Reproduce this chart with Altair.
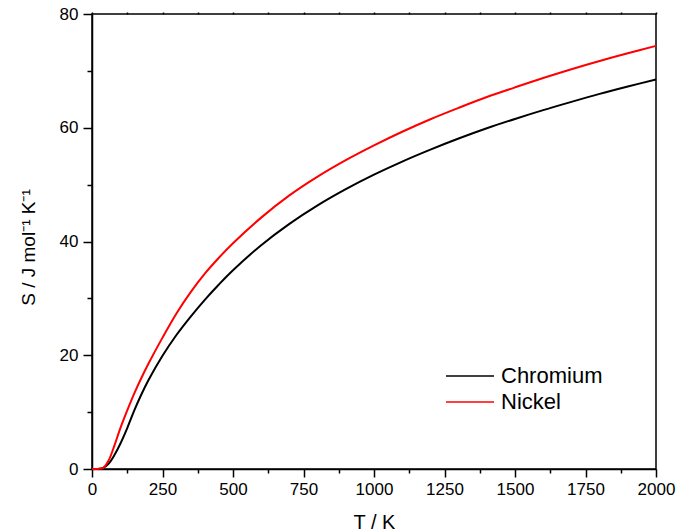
import altair as alt
import pandas as pd

# Temperatures (K) at which the curves were read
T_vals = [0, 20, 40, 60, 80, 100, 125, 150, 175, 200, 250, 300, 350, 400, 450, 500,
          600, 700, 800, 900, 1000, 1100, 1200, 1300, 1400, 1500, 1600, 1700, 1800, 1900, 2000]
# Entropy S / J mol^-1 K^-1
S_chromium = [0, 0, 0.2, 1.0, 2.5, 4.4, 7.2, 10.3, 13.1, 15.6, 19.9, 23.6, 26.8, 29.75, 32.45, 34.95,
              39.35, 43.1, 46.35, 49.2, 51.75, 54.05, 56.15, 58.1, 59.9, 61.55, 63.1, 64.55, 65.95, 67.25, 68.5]
S_nickel = [0, 0.02, 0.2, 1.6, 4.2, 7.1, 10.3, 13.3, 16.0, 18.5, 23.1, 27.4, 31.1, 34.35, 37.15, 39.7,
            44.2, 48.1, 51.4, 54.3, 56.9, 59.3, 61.5, 63.5, 65.4, 67.1, 68.75, 70.3, 71.75, 73.1, 74.4]
series_names = ["Chromium", "Nickel"]
series_colors = ["#000000", "#ff0000"]

x_major_ticks = [0, 250, 500, 750, 1000, 1250, 1500, 1750, 2000]
x_minor_ticks = [125, 375, 625, 875, 1125, 1375, 1625, 1875]
x_top_ticks = [0, 125, 250, 375, 500, 625, 750, 875, 1000, 1125, 1250, 1375, 1500,
               1625, 1750, 1875, 2000]
y_major_ticks = [0, 20, 40, 60, 80]
y_minor_ticks = [10, 30, 50, 70]

rows = []
for name, vals in zip(series_names, [S_chromium, S_nickel]):
    for t, s in zip(T_vals, vals):
        rows.append({"T": t, "S": s, "metal": name})
df = pd.DataFrame(rows)

FONT = "Liberation Sans"
xscale = alt.Scale(domain=[0, 2000], nice=False, zero=False)
yscale = alt.Scale(domain=[0, 80], nice=False)

base = alt.Chart(df)

lines = base.mark_line(strokeWidth=2, interpolate="catmull-rom").encode(
    x=alt.X("T:Q", scale=xscale,
            axis=alt.Axis(orient="bottom", values=x_major_ticks, format="d", tickSize=8,
                          labelPadding=4, title="T / K", titleFontSize=20, titleFont=FONT,
                          titleFontWeight="normal", titleBaseline="alphabetic", titleY=59,
                          titleX=282, titleAlign="center",
                          labelFontSize=17, labelFont=FONT, labelFlush=False, grid=False)),
    y=alt.Y("S:Q", scale=yscale,
            axis=alt.Axis(orient="left", values=y_major_ticks, format="d", tickSize=9,
                          labelPadding=5, title="S / J mol⁻¹ K⁻¹", titleFontSize=19,
                          titleFont=FONT, titleFontWeight="normal", titleAngle=270,
                          titleAlign="center", titleBaseline="middle", titleX=-64, titleY=233,
                          labelFontSize=17, labelFont=FONT, grid=False)),
    color=alt.Color("metal:N", scale=alt.Scale(domain=series_names, range=series_colors),
                    legend=alt.Legend(title=None, orient="none", legendX=367, legendY=351,
                                      padding=0, symbolType="M-4.8,0H4.8", symbolSize=100,
                                      symbolStrokeWidth=1.5, symbolFillColor="transparent",
                                      labelFontSize=22, labelFont=FONT, labelOffset=20,
                                      rowPadding=4, labelColor="black")),
)

minor = base.mark_point(opacity=0).encode(
    x=alt.X("T:Q", scale=xscale,
            axis=alt.Axis(orient="bottom", values=x_minor_ticks, tickSize=4, labels=False,
                          domain=False, title=None, grid=False)),
    y=alt.Y("S:Q", scale=yscale,
            axis=alt.Axis(orient="left", values=y_minor_ticks, tickSize=5, labels=False,
                          domain=False, title=None, grid=False)),
)

top = base.mark_point(opacity=0).encode(
    x=alt.X("T:Q", scale=xscale,
            axis=alt.Axis(orient="top", values=x_top_ticks, tickSize=2, labels=False,
                          domain=False, title=None, grid=False)),
    y=alt.Y("S:Q", scale=yscale, axis=None),
)

chart = alt.layer(lines, minor, top).resolve_axis(
    x="independent", y="independent"
).properties(
    width=564, height=455,
    autosize=alt.AutoSizeParams(type="none"),
    padding={"left": 92, "top": 14, "right": 23, "bottom": 62},
    background="white",
).configure_view(
    stroke="black", strokeWidth=1.5
).configure_axis(
    domainColor="black", domainWidth=1.5, tickColor="black", tickWidth=1.5,
    labelColor="black", titleColor="black"
)

chart.save("out.html", embed_options={"renderer": "svg", "actions": False})
